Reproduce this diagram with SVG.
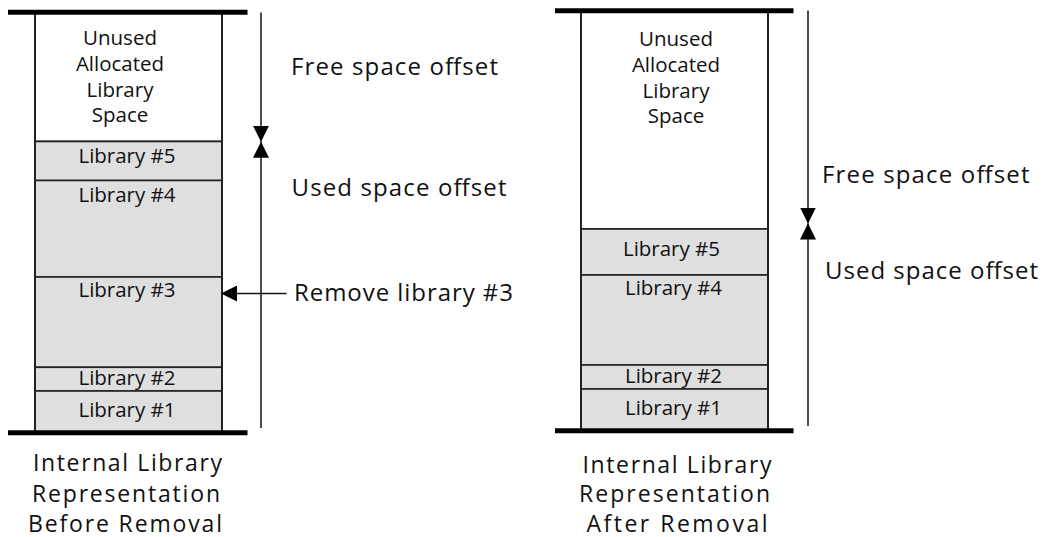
<svg xmlns="http://www.w3.org/2000/svg" width="1045" height="537" viewBox="0 0 1045 537">
  <style>
    .bar { stroke: #000; stroke-width: 5; }
    .free { fill: #fff; stroke: #222; stroke-width: 2; }
    .used { fill: #dfdfdf; stroke: #222; stroke-width: 1.6; }
    .side { stroke: #222; stroke-width: 2; fill: none; }
    .lbl { font-family: "Open Sans", "Liberation Sans", sans-serif; font-size: 20.5px; fill: #111; text-anchor: middle; }
    .note { font-family: "Open Sans", "Liberation Sans", sans-serif; font-size: 24px; fill: #111; }
    .cap { font-family: "Open Sans", "Liberation Sans", sans-serif; font-size: 23px; fill: #111; text-anchor: middle; }
    .dim { stroke: #111; stroke-width: 1.5; fill: none; marker-end: url(#tip); }
  </style>
  <defs>
    <marker id="tip" markerUnits="userSpaceOnUse" markerWidth="16" markerHeight="16" refX="16" refY="8" orient="auto">
      <path d="M0,0 L16,8 L0,16 z" fill="#000"/>
    </marker>
  </defs>

  <!-- Before removal -->
  <g id="before-unused">
    <rect class="free" x="35" y="12.5" width="187" height="129"/>
    <text class="lbl" x="120" y="44.5">Unused</text>
    <text class="lbl" x="120" y="70.5">Allocated</text>
    <text class="lbl" x="120" y="96.5">Library</text>
    <text class="lbl" x="120" y="122">Space</text>
  </g>
  <g id="before-lib5">
    <rect class="used" x="35" y="141.5" width="187" height="39"/>
    <text class="lbl" x="127" y="163.3">Library #5</text>
  </g>
  <g id="before-lib4">
    <rect class="used" x="35" y="180.5" width="187" height="96.5"/>
    <text class="lbl" x="127" y="201.7">Library #4</text>
  </g>
  <g id="before-lib3">
    <rect class="used" x="35" y="277" width="187" height="90.3"/>
    <text class="lbl" x="127" y="296.7">Library #3</text>
  </g>
  <g id="before-lib2">
    <rect class="used" x="35" y="367.3" width="187" height="23.7"/>
    <text class="lbl" x="127" y="385">Library #2</text>
  </g>
  <g id="before-lib1">
    <rect class="used" x="35" y="391" width="187" height="41.5"/>
    <text class="lbl" x="127" y="416.7">Library #1</text>
  </g>
  <g id="before-frame">
    <line class="side" x1="35" y1="12.5" x2="35" y2="432.5"/>
    <line class="side" x1="222" y1="12.5" x2="222" y2="432.5"/>
    <line class="bar" x1="8" y1="12.3" x2="247.5" y2="12.3"/>
    <line class="bar" x1="8" y1="432.8" x2="247.5" y2="432.8"/>
  </g>
  <g id="before-caption">
    <text class="cap" x="127.5" y="470.5" textLength="189" lengthAdjust="spacing">Internal Library</text>
    <text class="cap" x="126" y="501.5" textLength="188" lengthAdjust="spacing">Representation</text>
    <text class="cap" x="125" y="532" textLength="194" lengthAdjust="spacing">Before Removal</text>
  </g>

  <!-- After removal -->
  <g id="after-unused">
    <rect class="free" x="581" y="11" width="187" height="218"/>
    <text class="lbl" x="676" y="45.5">Unused</text>
    <text class="lbl" x="676" y="71.5">Allocated</text>
    <text class="lbl" x="676" y="97.5">Library</text>
    <text class="lbl" x="676" y="123">Space</text>
  </g>
  <g id="after-lib5">
    <rect class="used" x="581" y="229" width="187" height="46"/>
    <text class="lbl" x="671.5" y="255.7">Library #5</text>
  </g>
  <g id="after-lib4">
    <rect class="used" x="581" y="275" width="187" height="90"/>
    <text class="lbl" x="673.5" y="295">Library #4</text>
  </g>
  <g id="after-lib2">
    <rect class="used" x="581" y="365" width="187" height="24"/>
    <text class="lbl" x="673.5" y="383.3">Library #2</text>
  </g>
  <g id="after-lib1">
    <rect class="used" x="581" y="389" width="187" height="41"/>
    <text class="lbl" x="673.5" y="415">Library #1</text>
  </g>
  <g id="after-frame">
    <line class="side" x1="581" y1="11" x2="581" y2="430.5"/>
    <line class="side" x1="768" y1="11" x2="768" y2="430.5"/>
    <line class="bar" x1="555" y1="10.8" x2="793.5" y2="10.8"/>
    <line class="bar" x1="555" y1="430.8" x2="793.5" y2="430.8"/>
  </g>
  <g id="after-caption">
    <text class="cap" x="677" y="472.5" textLength="189" lengthAdjust="spacing">Internal Library</text>
    <text class="cap" x="674.5" y="502" textLength="191" lengthAdjust="spacing">Representation</text>
    <text class="cap" x="677" y="531.5" textLength="181" lengthAdjust="spacing">After Removal</text>
  </g>

  <!-- Offset dimension lines and the removal pointer -->
  <g id="connectors">
    <line class="dim" x1="261" y1="12.5" x2="261" y2="141.7"/>
    <line class="dim" x1="261" y1="428" x2="261" y2="141.7"/>
    <line class="dim" x1="808" y1="10.5" x2="808" y2="223.5"/>
    <line class="dim" x1="808" y1="426" x2="808" y2="223.5"/>
    <line class="dim" x1="286.5" y1="293.5" x2="221" y2="293.5"/>
  </g>

  <g id="offset-labels">
    <text class="note" x="291" y="75" textLength="207" lengthAdjust="spacing">Free space offset</text>
    <text class="note" x="291.5" y="196" textLength="215" lengthAdjust="spacing">Used space offset</text>
    <text class="note" x="294" y="301" textLength="219" lengthAdjust="spacing">Remove library #3</text>
    <text class="note" x="822" y="183.3" textLength="207.5" lengthAdjust="spacing">Free space offset</text>
    <text class="note" x="825" y="278.5" textLength="213" lengthAdjust="spacing">Used space offset</text>
  </g>
</svg>
